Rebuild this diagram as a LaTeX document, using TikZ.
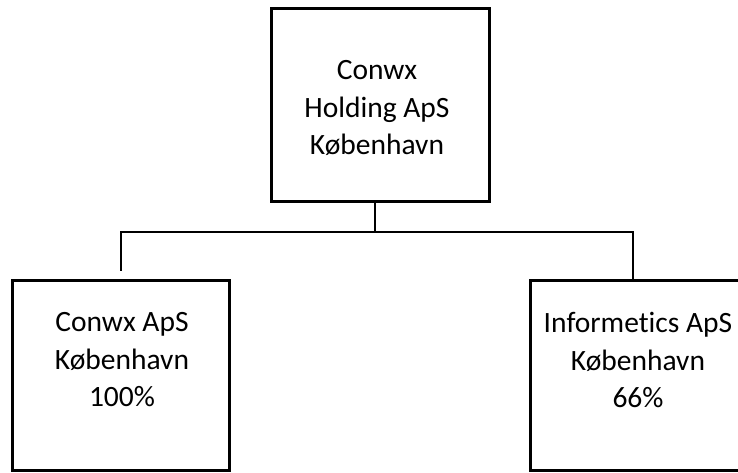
\documentclass[tikz,border=0pt]{standalone}
\usepackage{fontspec}
\setmainfont{Carlito}[RawFeature=-liga]
\begin{document}
\begin{tikzpicture}[x=1pt,y=-1pt,
  orgbox/.style={draw=black,line width=3pt,rectangle,inner sep=0pt},
  orgtext/.style={align=center,font=\fontsize{29.5}{37.5}\selectfont,inner sep=0pt},
  conn/.style={draw=black,line width=2.3pt}]
\clip (0,0) rectangle (738,473);
\fill[white] (0,0) rectangle (738,473);
% boxes
\node[orgbox,minimum width=218pt,minimum height=192pt] (top) at (380,105) {};
\node[orgbox,minimum width=217pt,minimum height=190pt] (left) at (121.3,375) {};
\node[orgbox,minimum width=218pt,minimum height=190pt] (right) at (639,375) {};
% texts
\node[orgtext] (toptext) at (377,108) {Conwx\\Holding ApS\\København};
\node[orgtext] (lefttext) at (122,360) {Conwx ApS\\København\\100\%};
\node[orgtext] (righttext) at (638,360) {Informetics ApS\\København\\66\%};
% connectors
\coordinate (stem) at (375,201);
\coordinate (hub) at (375,232);
\coordinate (lcorner) at (120.7,232);
\coordinate (lend) at (120.7,270.7);
\coordinate (rcorner) at (633,232);
\coordinate (rend) at (633,279);
\draw[conn] (stem) -- (hub);
\draw[conn] (lend) -- (lcorner) -- (rcorner) -- (rend);
\end{tikzpicture}
\end{document}
